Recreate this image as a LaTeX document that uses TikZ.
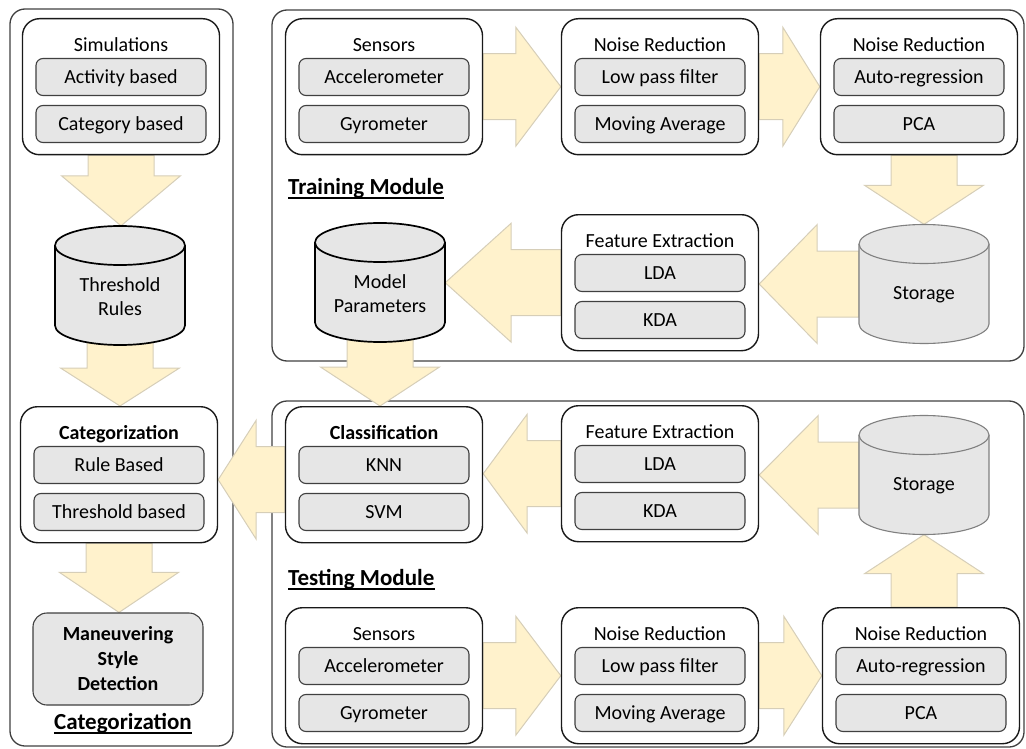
\documentclass[tikz,border=0pt]{standalone}
\usepackage{fontspec}
\setmainfont{Carlito}
\usepackage{tikz}
\usetikzlibrary{calc}
\usepackage{xcolor}

\definecolor{cream}{HTML}{FFF2CC}
\definecolor{creamline}{HTML}{D6CEB8}
\definecolor{boxgray}{HTML}{E6E6E6}
\definecolor{edgegray}{HTML}{404040}

\pgfdeclarelayer{back}
\pgfdeclarelayer{flow}
\pgfsetlayers{back,flow,main}

\tikzset{
  panel/.style={draw=edgegray, line width=1.3pt, rounded corners=15pt},
  stagebox/.style={draw=black!90, line width=1.4pt, fill=white, rounded corners=17pt,
    minimum width=197, minimum height=136},
  heading/.style={inner sep=0pt, text height=12.9pt, text depth=0pt},
  entry/.style={draw=edgegray, line width=1.1pt, fill=boxgray, rounded corners=7pt,
    minimum width=170, minimum height=37, inner sep=0pt, text height=12.9pt, text depth=0pt},
  flowarrow/.style={fill=cream, draw=creamline, line width=1pt},
  darkdrum/.style={fill=boxgray, draw=black, line width=1.7pt},
  lightdrum/.style={fill=boxgray, draw=gray, line width=1.1pt},
  modlabel/.style={font=\fontsize{23}{27}\selectfont\bfseries, inner sep=0pt},
}

% box with a heading and two entries, placed by its top centre
\newcommand\stage[5]{%
  \node[stagebox, anchor=north] (#1) at (#2) {};
  \node[heading] (#1-t) at ($(#1.north)+(0,-27)$) {#3};
  \node[entry] (#1-a) at ($(#1.north)+(0,-59)$) {#4};
  \node[entry] (#1-b) at ($(#1.north)+(0,-106)$) {#5};
}

% data store drum: name, x, y, style, text
\newcommand\drum[5]{%
  \filldraw[#4] ({#2-65},{#3+40}) -- ({#2-65},{#3-40})
    arc[start angle=180, end angle=360, x radius=65, y radius=19.5]
    -- ({#2+65},{#3+40})
    arc[start angle=0, end angle=180, x radius=65, y radius=19.5] -- cycle;
  \draw[#4] ({#2-65},{#3+40})
    arc[start angle=180, end angle=360, x radius=65, y radius=19.5];
  \node[minimum width=130, minimum height=119, inner sep=0pt] (#1) at (#2,#3) {};
  \node[align=center] (#1-txt) at (#2,{#3-11}) {#5};
}

% fat block arrow from tail to tip, optional head length
\newcommand\bigarrow[3][40]{%
  \begin{pgfonlayer}{flow}
  \coordinate (ah) at ($(#3)!#1pt!(#2)$);
  \path[flowarrow] ($(#2)!33pt!90:(#3)$) -- ($(ah)!33pt!-90:(#2)$)
    -- ($(ah)!59.5pt!-90:(#2)$) -- (#3) -- ($(ah)!59.5pt!90:(#2)$)
    -- ($(ah)!33pt!90:(#2)$) -- ($(#2)!33pt!-90:(#3)$) -- cycle;
  \end{pgfonlayer}
}

\begin{document}
\begin{tikzpicture}[x=1pt, y=1pt, every node/.style={font=\fontsize{20}{24}\selectfont}]
  \useasboundingbox (0,0) rectangle (1026,-749);

  % the three panels
  \begin{pgfonlayer}{back}
    \draw[panel] (10,-9) rectangle (233,-746);
    \draw[panel] (272,-10) rectangle (1024,-361);
    \draw[panel] (272,-401) rectangle (1024,-747);
  \end{pgfonlayer}

  % categorization side
  \stage{sim}{121,-18}{Simulations}{Activity based}{Category based}
  \drum{thr}{120}{-285.5}{darkdrum}{Threshold\\Rules}
  \stage{cat}{119,-406}{\textbf{Categorization}}{Rule Based}{Threshold based}
  \node[draw=edgegray, line width=1.1pt, fill=boxgray, rounded corners=14pt,
    minimum width=170, minimum height=92, align=center,
    font=\fontsize{20}{25}\selectfont\bfseries] (detect) at (118,-659)
    {Maneuvering\\Style\\Detection};
  \node[modlabel, anchor=base] (catlbl) at (123,-729) {Categorization};

  % training
  \stage{sens1}{384,-18}{Sensors}{Accelerometer}{Gyrometer}
  \stage{noise1}{660,-18}{Noise Reduction}{Low pass filter}{Moving Average}
  \stage{noise2}{919,-18}{Noise Reduction}{Auto-regression}{PCA}
  \drum{store1}{924}{-284}{lightdrum}{Storage}
  \stage{feat1}{660,-214}{Feature Extraction}{LDA}{KDA}
  \drum{mp}{380}{-282.5}{darkdrum}{Model\\Parameters}
  \node[modlabel, anchor=base west] (trainlbl) at (288,-194) {Training Module};

  % testing
  \stage{clas}{384,-406}{\textbf{Classification}}{KNN}{SVM}
  \stage{feat2}{660,-405}{Feature Extraction}{LDA}{KDA}
  \drum{store2}{924}{-475}{lightdrum}{Storage}
  \stage{sens2}{384,-607}{Sensors}{Accelerometer}{Gyrometer}
  \stage{noise3}{660,-607}{Noise Reduction}{Low pass filter}{Moving Average}
  \stage{noise4}{921,-607}{Noise Reduction}{Auto-regression}{PCA}
  \node[modlabel, anchor=base west] (testlbl) at (288,-585) {Testing Module};

  % underlines
  \foreach \l in {catlbl,trainlbl,testlbl}
    \draw[line width=1.8pt] ([yshift=-4pt]\l.base west) -- ([yshift=-4pt]\l.base east);

  % flow
  \coordinate (clasout) at ([yshift=-5pt]clas.west);
  \bigarrow[50]{sim.south}{sim.south |- thr.north}
  \bigarrow[38]{[yshift=6pt]thr.south}{thr.south |- cat.north}
  \bigarrow[40]{cat.south}{cat.south |- detect.north}
  \bigarrow[45]{sens1.east}{noise1.west |- sens1.east}
  \bigarrow[37]{noise1.east}{noise2.west |- noise1.east}
  \bigarrow[39]{store1.north |- noise2.south}{store1.north}
  \bigarrow[58]{store1.west}{feat1.east |- store1.west}
  \bigarrow[66]{feat1.west}{mp.east |- feat1.west}
  \bigarrow[39]{[yshift=6pt]mp.south}{mp.south |- clas.north}
  \bigarrow[38]{clasout}{cat.east |- clasout}
  \bigarrow[44]{feat2.west}{clas.east |- feat2.west}
  \bigarrow[59]{store2.west}{feat2.east |- store2.west}
  \bigarrow[39]{store2.south |- noise4.north}{store2.south}
  \bigarrow[45]{sens2.east}{noise3.west |- sens2.east}
  \bigarrow[38]{noise3.east}{noise4.west |- noise3.east}
\end{tikzpicture}
\end{document}
